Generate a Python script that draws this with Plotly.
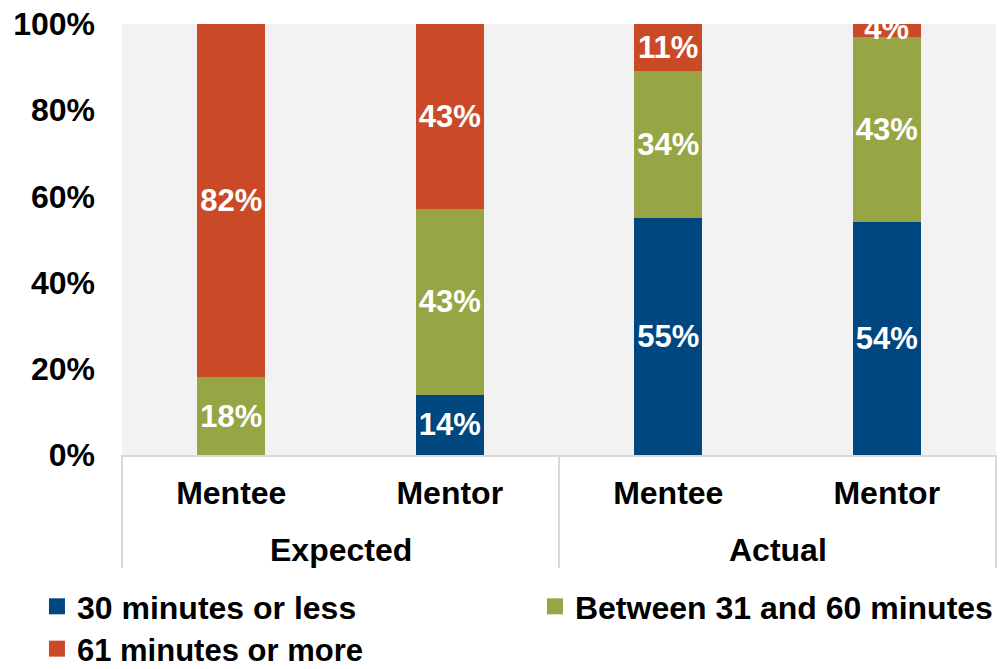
import plotly.graph_objects as go

# Grouping: phase (outer level) and role (inner level)
phases = ["Expected", "Expected", "Actual", "Actual"]
roles = ["Mentee", "Mentor", "Mentee", "Mentor"]

# Share of respondents (%) per meeting length
series_names = ["30 minutes or less", "Between 31 and 60 minutes", "61 minutes or more"]
short_pct = [0, 14, 55, 54]
medium_pct = [18, 43, 34, 43]
long_pct = [82, 43, 11, 4]

y_ticks = [0, 20, 40, 60, 80, 100]

colors = ["#00467f", "#97a545", "#ca4a27"]
FONT = "Liberation Sans, Arial, sans-serif"
DIVIDER = "#d9d9d9"

positions = list(range(len(roles)))

fig = go.Figure()
for name, vals, col in zip(series_names, [short_pct, medium_pct, long_pct], colors):
    fig.add_trace(go.Bar(
        x=positions,
        y=vals,
        name=name,
        marker=dict(color=col, line=dict(width=0)),
        text=[f"{v}%" if v else "" for v in vals],
        textposition="inside",
        insidetextanchor="middle",
        textangle=0,
        constraintext="none",
        textfont=dict(family=FONT, size=31, color="white", weight="bold"),
        showlegend=False,
        hoverinfo="skip",
    ))

# Legend entries with larger square swatches; third entry sits on its own row
for i, (name, col) in enumerate(zip(series_names, colors)):
    fig.add_trace(go.Scatter(
        x=[None], y=[None], mode="markers", name=name,
        legend="legend" if i < 2 else "legend2",
        marker=dict(symbol="square", size=16, color=col),
    ))

# Outer group labels and dividers below the axis
groups = []
for p, ph in zip(positions, phases):
    if not groups or groups[-1][0] != ph:
        groups.append([ph, [p]])
    else:
        groups[-1][1].append(p)

n = len(positions)
annotations = []
shapes = []
for ph, members in groups:
    annotations.append(dict(
        x=sum(members) / len(members), xref="x",
        y=0, yref="paper", yshift=-95, yanchor="middle",
        text=ph, showarrow=False,
        font=dict(family=FONT, size=32, color="black", weight="bold"),
    ))
boundaries = [0.0] + [(members[-1] + 1) / n for _, members in groups]
for bx in boundaries:
    shapes.append(dict(
        type="line", xref="paper", yref="paper",
        x0=bx, x1=bx, y0=0, y1=-0.262,
        line=dict(color=DIVIDER, width=2),
    ))

legend_font = dict(family=FONT, size=32, color="black", weight="bold")
fig.update_layout(
    width=1006, height=669,
    margin=dict(l=122, r=10, t=24, b=214, autoexpand=False),
    barmode="stack",
    bargap=0.69,
    plot_bgcolor="#f2f2f2",
    paper_bgcolor="white",
    font=dict(family=FONT, size=32, color="black", weight="bold"),
    annotations=annotations,
    shapes=shapes,
    legend=dict(
        orientation="h", traceorder="normal",
        x=-0.0973, xanchor="left",
        y=-0.2877, yanchor="top",
        entrywidth=453, entrywidthmode="pixels",
        font=legend_font,
        itemclick=False, itemdoubleclick=False,
    ),
    legend2=dict(
        orientation="h", traceorder="normal",
        x=-0.0973, xanchor="left",
        y=-0.3875, yanchor="top",
        font=dict(family=FONT, size=31, color="black", weight="bold"),
        itemclick=False, itemdoubleclick=False,
    ),
)
fig.update_xaxes(
    range=[-0.5, n - 0.5],
    tickmode="array", tickvals=positions, ticktext=roles,
    showline=True, linecolor=DIVIDER, linewidth=2,
    showgrid=False, zeroline=False, ticks="",
    ticklabelstandoff=9,
    tickfont=dict(family=FONT, size=32, color="black", weight="bold"),
)
fig.update_yaxes(
    range=[0, 100], tickmode="array", tickvals=y_ticks,
    ticktext=[f"{t}%" for t in y_ticks],
    showgrid=False, zeroline=False, showline=False,
    ticks="", ticklabelstandoff=26,
    tickfont=dict(family=FONT, size=32, color="black", weight="bold"),
)

fig.write_html("out.html")
